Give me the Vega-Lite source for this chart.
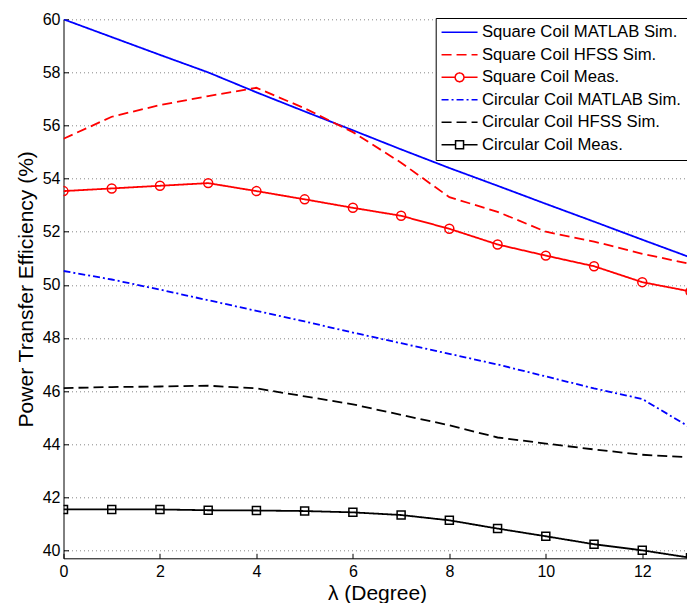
{
  "$schema": "https://vega.github.io/schema/vega-lite/v6.json",
  "width": 627,
  "height": 539,
  "autosize": {"type": "none"},
  "padding": {"left": 63.5, "top": 19.3, "right": 0, "bottom": 44.7},
  "background": "white",
  "config": {
    "font": "Liberation Sans",
    "view": {"stroke": null},
    "axis": {
      "labelFont": "Liberation Sans",
      "titleFont": "Liberation Sans",
      "labelFontSize": 16,
      "titleFontSize": 21,
      "titleFontWeight": "normal",
      "labelColor": "black",
      "titleColor": "black",
      "domainColor": "black",
      "domainWidth": 1,
      "tickColor": "black",
      "tickSize": -5,
      "gridColor": "#888888",
      "gridDash": [1, 3],
      "gridWidth": 1,
      "gridOpacity": 1
    }
  },
  "data": {
    "values": [
      {"x": 0, "y": 60.0, "series": "Square Coil MATLAB Sim."},
      {"x": 1, "y": 59.33, "series": "Square Coil MATLAB Sim."},
      {"x": 2, "y": 58.66, "series": "Square Coil MATLAB Sim."},
      {"x": 3, "y": 58.0, "series": "Square Coil MATLAB Sim."},
      {"x": 4, "y": 57.25, "series": "Square Coil MATLAB Sim."},
      {"x": 5, "y": 56.53, "series": "Square Coil MATLAB Sim."},
      {"x": 6, "y": 55.82, "series": "Square Coil MATLAB Sim."},
      {"x": 7, "y": 55.1, "series": "Square Coil MATLAB Sim."},
      {"x": 8, "y": 54.4, "series": "Square Coil MATLAB Sim."},
      {"x": 9, "y": 53.73, "series": "Square Coil MATLAB Sim."},
      {"x": 10, "y": 53.05, "series": "Square Coil MATLAB Sim."},
      {"x": 11, "y": 52.38, "series": "Square Coil MATLAB Sim."},
      {"x": 12, "y": 51.7, "series": "Square Coil MATLAB Sim."},
      {"x": 13, "y": 51.03, "series": "Square Coil MATLAB Sim."},

      {"x": 0, "y": 55.5, "series": "Square Coil HFSS Sim."},
      {"x": 1, "y": 56.33, "series": "Square Coil HFSS Sim."},
      {"x": 2, "y": 56.77, "series": "Square Coil HFSS Sim."},
      {"x": 3, "y": 57.11, "series": "Square Coil HFSS Sim."},
      {"x": 4, "y": 57.42, "series": "Square Coil HFSS Sim."},
      {"x": 5, "y": 56.65, "series": "Square Coil HFSS Sim."},
      {"x": 6, "y": 55.75, "series": "Square Coil HFSS Sim."},
      {"x": 7, "y": 54.6, "series": "Square Coil HFSS Sim."},
      {"x": 8, "y": 53.3, "series": "Square Coil HFSS Sim."},
      {"x": 9, "y": 52.75, "series": "Square Coil HFSS Sim."},
      {"x": 10, "y": 52.0, "series": "Square Coil HFSS Sim."},
      {"x": 11, "y": 51.63, "series": "Square Coil HFSS Sim."},
      {"x": 12, "y": 51.17, "series": "Square Coil HFSS Sim."},
      {"x": 13, "y": 50.78, "series": "Square Coil HFSS Sim."},

      {"x": 0, "y": 53.53, "series": "Square Coil Meas."},
      {"x": 1, "y": 53.63, "series": "Square Coil Meas."},
      {"x": 2, "y": 53.73, "series": "Square Coil Meas."},
      {"x": 3, "y": 53.83, "series": "Square Coil Meas."},
      {"x": 4, "y": 53.53, "series": "Square Coil Meas."},
      {"x": 5, "y": 53.22, "series": "Square Coil Meas."},
      {"x": 6, "y": 52.9, "series": "Square Coil Meas."},
      {"x": 7, "y": 52.6, "series": "Square Coil Meas."},
      {"x": 8, "y": 52.11, "series": "Square Coil Meas."},
      {"x": 9, "y": 51.52, "series": "Square Coil Meas."},
      {"x": 10, "y": 51.1, "series": "Square Coil Meas."},
      {"x": 11, "y": 50.7, "series": "Square Coil Meas."},
      {"x": 12, "y": 50.1, "series": "Square Coil Meas."},
      {"x": 13, "y": 49.75, "series": "Square Coil Meas."},

      {"x": 0, "y": 50.52, "series": "Circular Coil MATLAB Sim."},
      {"x": 1, "y": 50.2, "series": "Circular Coil MATLAB Sim."},
      {"x": 2, "y": 49.82, "series": "Circular Coil MATLAB Sim."},
      {"x": 3, "y": 49.42, "series": "Circular Coil MATLAB Sim."},
      {"x": 4, "y": 49.02, "series": "Circular Coil MATLAB Sim."},
      {"x": 5, "y": 48.62, "series": "Circular Coil MATLAB Sim."},
      {"x": 6, "y": 48.2, "series": "Circular Coil MATLAB Sim."},
      {"x": 7, "y": 47.8, "series": "Circular Coil MATLAB Sim."},
      {"x": 8, "y": 47.4, "series": "Circular Coil MATLAB Sim."},
      {"x": 9, "y": 47.0, "series": "Circular Coil MATLAB Sim."},
      {"x": 10, "y": 46.55, "series": "Circular Coil MATLAB Sim."},
      {"x": 11, "y": 46.1, "series": "Circular Coil MATLAB Sim."},
      {"x": 12, "y": 45.7, "series": "Circular Coil MATLAB Sim."},
      {"x": 13, "y": 44.62, "series": "Circular Coil MATLAB Sim."},

      {"x": 0, "y": 46.11, "series": "Circular Coil HFSS Sim."},
      {"x": 1, "y": 46.15, "series": "Circular Coil HFSS Sim."},
      {"x": 2, "y": 46.17, "series": "Circular Coil HFSS Sim."},
      {"x": 3, "y": 46.2, "series": "Circular Coil HFSS Sim."},
      {"x": 4, "y": 46.1, "series": "Circular Coil HFSS Sim."},
      {"x": 5, "y": 45.8, "series": "Circular Coil HFSS Sim."},
      {"x": 6, "y": 45.5, "series": "Circular Coil HFSS Sim."},
      {"x": 7, "y": 45.1, "series": "Circular Coil HFSS Sim."},
      {"x": 8, "y": 44.71, "series": "Circular Coil HFSS Sim."},
      {"x": 9, "y": 44.25, "series": "Circular Coil HFSS Sim."},
      {"x": 10, "y": 44.02, "series": "Circular Coil HFSS Sim."},
      {"x": 11, "y": 43.8, "series": "Circular Coil HFSS Sim."},
      {"x": 12, "y": 43.6, "series": "Circular Coil HFSS Sim."},
      {"x": 13, "y": 43.5, "series": "Circular Coil HFSS Sim."},

      {"x": 0, "y": 41.54, "series": "Circular Coil Meas."},
      {"x": 1, "y": 41.54, "series": "Circular Coil Meas."},
      {"x": 2, "y": 41.54, "series": "Circular Coil Meas."},
      {"x": 3, "y": 41.51, "series": "Circular Coil Meas."},
      {"x": 4, "y": 41.5, "series": "Circular Coil Meas."},
      {"x": 5, "y": 41.48, "series": "Circular Coil Meas."},
      {"x": 6, "y": 41.43, "series": "Circular Coil Meas."},
      {"x": 7, "y": 41.33, "series": "Circular Coil Meas."},
      {"x": 8, "y": 41.13, "series": "Circular Coil Meas."},
      {"x": 9, "y": 40.82, "series": "Circular Coil Meas."},
      {"x": 10, "y": 40.53, "series": "Circular Coil Meas."},
      {"x": 11, "y": 40.23, "series": "Circular Coil Meas."},
      {"x": 12, "y": 40.0, "series": "Circular Coil Meas."},
      {"x": 13, "y": 39.72, "series": "Circular Coil Meas."}
    ]
  },
  "encoding": {
    "x": {
      "field": "x",
      "type": "quantitative",
      "scale": {"domain": [0, 13], "nice": false, "zero": false},
      "axis": {
        "title": "λ (Degree)",
        "values": [0, 2, 4, 6, 8, 10, 12],
        "labelPadding": 10,
        "labelFlush": false,
        "titlePadding": 3,
        "grid": false
      }
    },
    "y": {
      "field": "y",
      "type": "quantitative",
      "scale": {"domain": [39.7, 60], "nice": false, "zero": false},
      "axis": {
        "title": "Power Transfer Efficiency (%)",
        "values": [40, 42, 44, 46, 48, 50, 52, 54, 56, 58, 60],
        "labelPadding": 8.5,
        "titlePadding": 6,
        "grid": true
      }
    }
  },
  "layer": [
    {
      "mark": {"type": "line", "strokeWidth": 1.8, "clip": true},
      "encoding": {
        "color": {
          "field": "series",
          "type": "nominal",
          "sort": null,
          "scale": {
            "domain": ["Square Coil MATLAB Sim.", "Square Coil HFSS Sim.", "Square Coil Meas.", "Circular Coil MATLAB Sim.", "Circular Coil HFSS Sim.", "Circular Coil Meas."],
            "range": ["#0000FF", "#FF0000", "#FF0000", "#0000FF", "#000000", "#000000"]
          },
          "legend": {
            "title": null,
            "orient": "none",
            "legendX": 372.2,
            "legendY": -1.3,
            "padding": 6,
            "rowPadding": 4.5,
            "strokeColor": "black",
            "fillColor": "white",
            "labelFont": "Liberation Sans",
            "labelFontSize": 16.7,
            "labelColor": "black",
            "labelLimit": 400,
            "symbolSize": 196,
            "symbolStrokeWidth": 1.5,
            "symbolOffset": 9.5,
            "labelOffset": 14,
            "encode": {
              "symbols": {
                "update": {
                  "fill": {"value": "white"},
                  "shape": {"signal": "datum.value === 'Square Coil Meas.' ? 'M-2.571,0H-0.643M0.643,0H2.571M0.643,0L0.557,0.3215L0.3215,0.557L0,0.643L-0.3215,0.557L-0.557,0.3215L-0.643,0L-0.557,-0.3215L-0.3215,-0.557L0,-0.643L0.3215,-0.557L0.557,-0.3215Z' : datum.value === 'Circular Coil Meas.' ? 'M-2.571,0H-0.571M0.571,0H2.571M-0.571,-0.571H0.571V0.571H-0.571Z' : 'M-2.571,0H2.571'"}
                }
              }
            }
          }
        },
        "strokeDash": {
          "field": "series",
          "type": "nominal",
          "sort": null,
          "scale": {
            "domain": ["Square Coil MATLAB Sim.", "Square Coil HFSS Sim.", "Square Coil Meas.", "Circular Coil MATLAB Sim.", "Circular Coil HFSS Sim.", "Circular Coil Meas."],
            "range": [[1, 0], [10, 5], [1, 0], [7, 3, 2, 3], [10, 5], [1, 0]]
          },
          "legend": {
            "title": null,
            "orient": "none",
            "legendX": 372.2,
            "legendY": -1.3,
            "padding": 6,
            "rowPadding": 4.5,
            "strokeColor": "black",
            "fillColor": "white",
            "labelFont": "Liberation Sans",
            "labelFontSize": 16.7,
            "labelColor": "black",
            "labelLimit": 400,
            "symbolSize": 196,
            "symbolStrokeWidth": 1.5,
            "symbolOffset": 9.5,
            "labelOffset": 14,
            "encode": {
              "symbols": {
                "update": {
                  "fill": {"value": "white"},
                  "shape": {"signal": "datum.value === 'Square Coil Meas.' ? 'M-2.571,0H-0.643M0.643,0H2.571M0.643,0L0.557,0.3215L0.3215,0.557L0,0.643L-0.3215,0.557L-0.557,0.3215L-0.643,0L-0.557,-0.3215L-0.3215,-0.557L0,-0.643L0.3215,-0.557L0.557,-0.3215Z' : datum.value === 'Circular Coil Meas.' ? 'M-2.571,0H-0.571M0.571,0H2.571M-0.571,-0.571H0.571V0.571H-0.571Z' : 'M-2.571,0H2.571'"}
                }
              }
            }
          }
        }
      }
    },
    {
      "transform": [{"filter": "datum.series === 'Square Coil Meas.'"}],
      "mark": {"type": "point", "shape": "circle", "filled": false, "stroke": "#FF0000", "strokeWidth": 1.5, "size": 80, "opacity": 1, "clip": true}
    },
    {
      "transform": [{"filter": "datum.series === 'Circular Coil Meas.'"}],
      "mark": {"type": "point", "shape": "square", "filled": false, "stroke": "#000000", "strokeWidth": 1.5, "size": 64, "opacity": 1, "clip": true}
    }
  ]
}
